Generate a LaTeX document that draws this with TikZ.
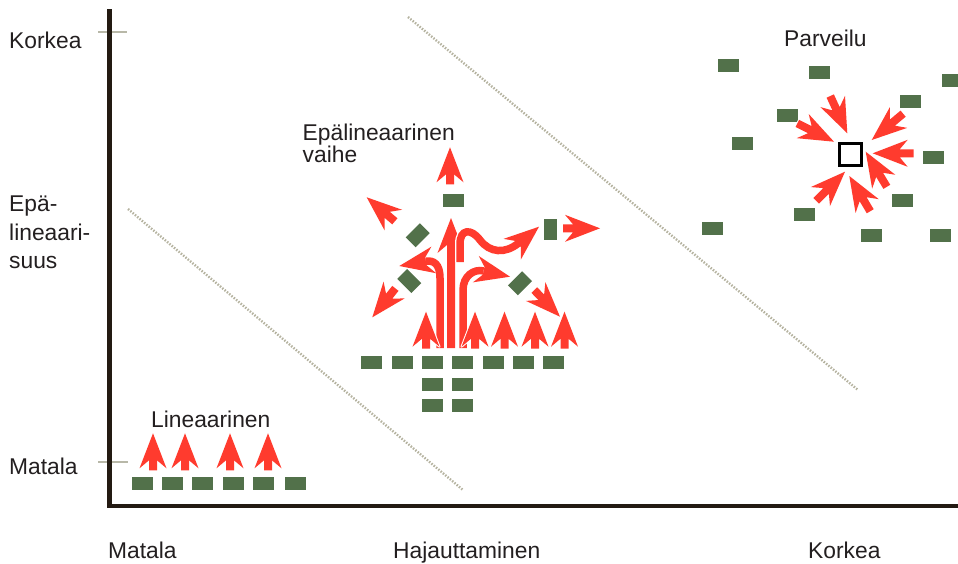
\documentclass[tikz,border=0pt]{standalone}
\usepackage{fontspec}
\setmainfont{Liberation Sans}
\definecolor{arrred}{HTML}{FF3B2E}
\definecolor{dgreen}{HTML}{52714A}
\definecolor{axisc}{HTML}{231A12}
\definecolor{tickc}{HTML}{B8B8A8}
\definecolor{dotc}{HTML}{B5B3A0}
\definecolor{txtc}{HTML}{231F20}
\newcommand\fshape[5]{\begin{scope}[shift={(#1,#2)},rotate=#3]
  \path[#5] (0,0) -- (-35,13.5) -- (-27,4) -- (-#4,4) -- (-#4,-4) -- (-27,-4) -- (-35,-13.5) -- cycle;
\end{scope}}
\newcommand\farr[4]{\fshape{#1}{#2}{#3}{#4}{fill=white,draw=white,line width=2pt,line join=round}\fshape{#1}{#2}{#3}{#4}{fill=arrred}}
\newcommand\fheadw[3]{\fshape{#1}{#2}{#3}{27}{fill=white,draw=white,line width=2pt,line join=round}}
\newcommand\fheadr[3]{\fshape{#1}{#2}{#3}{27}{fill=arrred}}
\begin{document}
\begin{tikzpicture}[x=1pt,y=-1pt,
  blk/.style={rectangle, fill=dgreen, minimum width=21pt, minimum height=13pt, inner sep=0pt},
  dia/.style={rectangle, fill=dgreen, minimum width=20pt, minimum height=14pt, inner sep=0pt},
  lbl/.style={anchor=base west, inner sep=0pt, text=txtc, font=\fontsize{22.8}{27}\selectfont},
  stemw/.style={draw=white, line width=10pt},
  stemr/.style={draw=arrred, line width=7.5pt},
  axisline/.style={draw=axisc, line width=4.5pt, line join=miter},
  tickline/.style={draw=tickc, line width=2.5pt},
  dotline/.style={draw=dotc, line width=2.4pt, dash pattern=on 1.5pt off 1.5pt}]
\useasboundingbox (0,0) rectangle (958,563);

% dotted separators
\coordinate (d1a) at (128,209); \coordinate (d1b) at (463,490);
\coordinate (d2a) at (408,17);  \coordinate (d2b) at (858,390);
\draw[dotline] (d1a) -- (d1b);
\draw[dotline] (d2a) -- (d2b);

% ticks and axes
\coordinate (t1a) at (98,32); \coordinate (t1b) at (127,32);
\coordinate (t2a) at (98,462);  \coordinate (t2b) at (128,462);
\draw[tickline] (t1a) -- (t1b);
\draw[tickline] (t2a) -- (t2b);
\coordinate (ytop) at (109.5,9); \coordinate (orig) at (109.5,506); \coordinate (xend) at (960,506);
\draw[axisline] (ytop) -- (orig) -- (xend);

% axis labels
\node[lbl] (yk) at (9,48.3) {Korkea};
\node[lbl] (ye1) at (9,211.5) {Epä-};
\node[lbl] (ye2) at (9,240) {lineaari-};
\node[lbl] (ye3) at (9,268.5) {suus};
\node[lbl] (ym) at (9,474) {Matala};
\node[lbl] (xm) at (108,558) {Matala};
\node[lbl] (xh) at (393,558) {Hajauttaminen};
\node[lbl] (xk) at (808,558) {Korkea};

% region labels
\node[lbl] (lin) at (151,427) {Lineaarinen};
\node[lbl] (epa1) at (302.5,140) {Epälineaarinen};
\node[lbl] (epa2) at (302.5,162) {vaihe};
\node[lbl] (par) at (784,46) {Parveilu};

% ---------- linear group ----------
\foreach \x [count=\i] in {142,172.5,202.5,233.5,263,295}
  {\node[blk] (lr\i) at (\x,483.5) {};}
\foreach \x in {153,185,230,268}
  {\farr{\x}{433.3}{90}{37}}

% ---------- non-linear group ----------
\foreach \x [count=\i] in {371,402,432,462,493,523,553}
  {\node[blk] (cr\i) at (\x,362.5) {};}
\node[blk] (cs1) at (432,384) {};
\node[blk] (cs2) at (462,384) {};
\node[blk] (cs3) at (432,405) {};
\node[blk] (cs4) at (462,405) {};
\node[blk] (ctop) at (453.5,200.5) {};
\node[blk, rotate=90] (cright) at (550,229.5) {};
\node[dia, rotate=45] (cdul) at (417.7,235.3) {};
\node[dia, rotate=-45] (cdll) at (409.3,281) {};
\node[dia, rotate=45] (cdr) at (520,283.3) {};

% outward straight arrows
\farr{450}{147.3}{90}{37}
\farr{366.7}{197.3}{139.5}{37}
\farr{372.3}{317.3}{231.4}{37}
\farr{560}{316.7}{-46}{37}
\farr{600}{228.3}{0}{37}

% left curved arrow
\draw[stemw] (440,348) -- (440,278) .. controls (440,264) and (433.6,259.9) .. (425.6,261.3);
\fheadw{399.3}{266}{190}
\draw[stemr] (440,348) -- (440,278) .. controls (440,264) and (433.6,259.9) .. (425.6,261.3);
\fheadr{399.3}{266}{190}

% central long arrow
\farr{451}{218}{90}{130}

% right curved arrow
\draw[stemw] (463,348) -- (463,290) .. controls (463,276) and (473.8,268.7) .. (483.6,270.9);
\fheadw{510}{276.7}{-12.5}
\draw[stemr] (463,348) -- (463,290) .. controls (463,276) and (473.8,268.7) .. (483.6,270.9);
\fheadr{510}{276.7}{-12.5}

% wavy arrow
\draw[stemw] (460,262) -- (460,244) .. controls (460,229) and (471,228) .. (480,240) .. controls (490,253) and (505,254) .. (518.4,243.2);
\fheadw{539}{226.7}{40}
\draw[stemr] (460,262) -- (460,244) .. controls (460,229) and (471,228) .. (480,240) .. controls (490,253) and (505,254) .. (518.4,243.2);
\fheadr{539}{226.7}{40}

% bottom-row up arrows
\foreach \x in {426,475,504.5,535,564.5}
  {\farr{\x}{311.7}{90}{37}}

% ---------- swarming group ----------
\foreach \p [count=\i] in {(728,65.7),(819,72.7),(952.2,80),(910,101),(787.5,115),(742.5,143.3),(933,157.7),(902,200),(804,214.7),(712,228.3),(871.7,235.3),(940,235.3)}
  {\node[blk] (sw\i) at \p {};}
\node[draw=black, line width=3pt, minimum size=22pt, inner sep=0pt] (target) at (850,154) {};
\farr{834}{141.7}{-26.5}{41}
\farr{847.3}{133.3}{-65.4}{41}
\farr{871.7}{140}{-140}{41}
\farr{872.7}{153.3}{180}{41}
\farr{865.7}{151.7}{121}{41}
\farr{849.3}{176}{120.7}{41}
\farr{845}{171.7}{45.3}{41}
\end{tikzpicture}
\end{document}
